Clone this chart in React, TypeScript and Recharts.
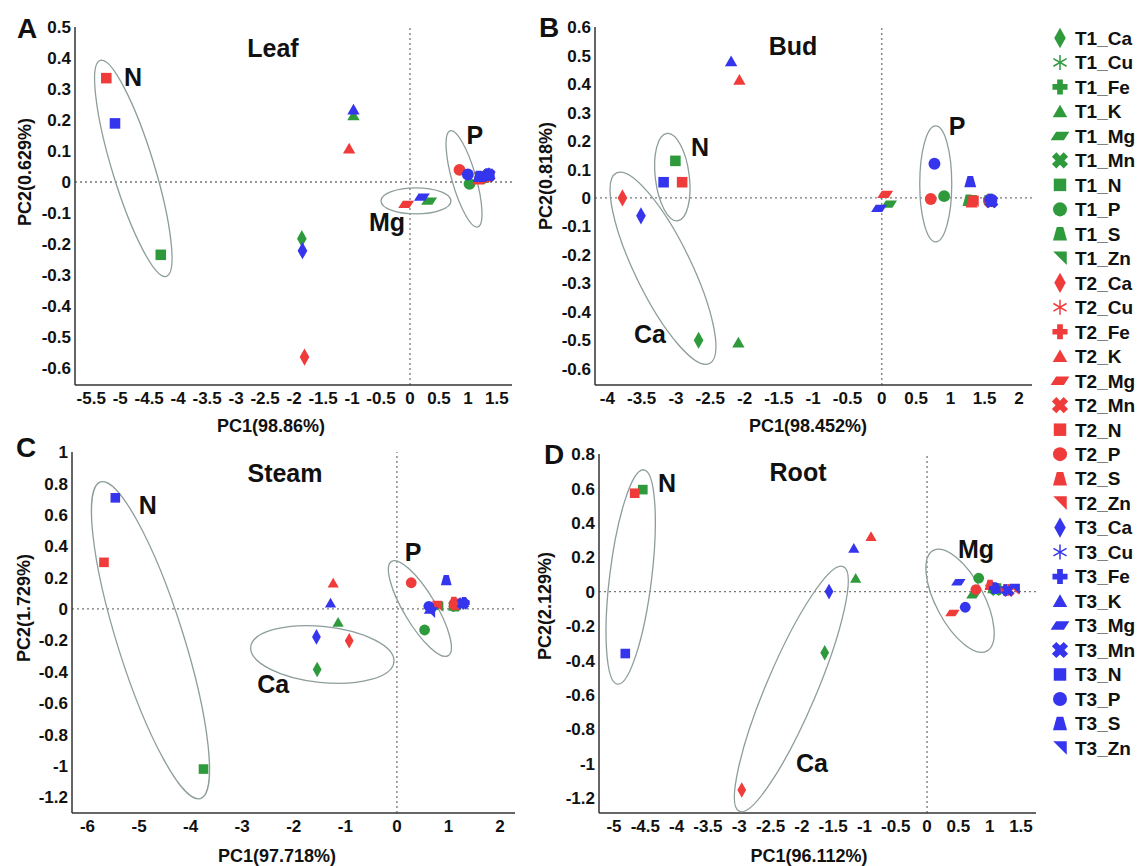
import React from 'react'
import { ScatterChart, Scatter, XAxis, YAxis, ReferenceLine, ReferenceDot } from 'recharts'

const FONT = '"Liberation Sans", Arial, Helvetica, sans-serif'

const ELEMENTS = ['Ca', 'Cu', 'Fe', 'K', 'Mg', 'Mn', 'N', 'P', 'S', 'Zn']
const TREATMENTS = ['T1', 'T2', 'T3']
const COLORS: Record<string, string> = { T1: '#2e9a3b', T2: '#f03b3b', T3: '#3535ee' }
const RING_COLOR = '#8d9d9b'

// ---- A: Leaf ----
const LEAF_T1 = [
  { el: 'Ca', pc1: -1.866, pc2: -0.183 },
  { el: 'Cu', pc1: 1.33, pc2: 0.02 },
  { el: 'Fe', pc1: 1.32, pc2: 0.018 },
  { el: 'K', pc1: -0.975, pc2: 0.215 },
  { el: 'Mg', pc1: 0.33, pc2: -0.062 },
  { el: 'Mn', pc1: 1.34, pc2: 0.02 },
  { el: 'N', pc1: -4.3, pc2: -0.235 },
  { el: 'P', pc1: 1.027, pc2: -0.006 },
  { el: 'S', pc1: 1.18, pc2: 0.012 },
  { el: 'Zn', pc1: 1.2, pc2: 0.01 },
]
const LEAF_T2 = [
  { el: 'Ca', pc1: -1.82, pc2: -0.565 },
  { el: 'Cu', pc1: 1.34, pc2: 0.018 },
  { el: 'Fe', pc1: 1.33, pc2: 0.02 },
  { el: 'K', pc1: -1.05, pc2: 0.108 },
  { el: 'Mg', pc1: -0.066, pc2: -0.072 },
  { el: 'Mn', pc1: 1.35, pc2: 0.02 },
  { el: 'N', pc1: -5.24, pc2: 0.335 },
  { el: 'P', pc1: 0.854, pc2: 0.039 },
  { el: 'S', pc1: 1.18, pc2: 0.01 },
  { el: 'Zn', pc1: 1.2, pc2: 0.012 },
]
const LEAF_T3 = [
  { el: 'Ca', pc1: -1.855, pc2: -0.222 },
  { el: 'Cu', pc1: 1.36, pc2: 0.025 },
  { el: 'Fe', pc1: 1.35, pc2: 0.024 },
  { el: 'K', pc1: -0.975, pc2: 0.234 },
  { el: 'Mg', pc1: 0.205, pc2: -0.049 },
  { el: 'Mn', pc1: 1.36, pc2: 0.022 },
  { el: 'N', pc1: -5.09, pc2: 0.189 },
  { el: 'P', pc1: 0.998, pc2: 0.024 },
  { el: 'S', pc1: 1.19, pc2: 0.018 },
  { el: 'Zn', pc1: 1.21, pc2: 0.015 },
]
const LEAF_X_DOMAIN = [-5.78, 1.76]
const LEAF_Y_DOMAIN = [-0.655, 0.5]
const LEAF_X_TICKS = [-5.5, -5, -4.5, -4, -3.5, -3, -2.5, -2, -1.5, -1, -0.5, 0, 0.5, 1, 1.5]
const LEAF_Y_TICKS = [-0.6, -0.5, -0.4, -0.3, -0.2, -0.1, 0, 0.1, 0.2, 0.3, 0.4, 0.5]
const LEAF_GROUPS = [
  { name: 'N', pc1: -4.774, pc2: 0.044 },
  { name: 'Mg', pc1: 0.103, pc2: -0.061 },
  { name: 'P', pc1: 0.932, pc2: 0.01 },
]
const LEAF_LABELS = [
  { text: 'Leaf', pc1: -2.364, pc2: 0.432 },
  { text: 'N', pc1: -4.779, pc2: 0.339 },
  { text: 'P', pc1: 1.121, pc2: 0.152 },
  { text: 'Mg', pc1: -0.397, pc2: -0.129 },
]

// ---- B: Bud ----
const BUD_T1 = [
  { el: 'Ca', pc1: -2.67, pc2: -0.5 },
  { el: 'Cu', pc1: 1.58, pc2: -0.01 },
  { el: 'Fe', pc1: 1.57, pc2: -0.008 },
  { el: 'K', pc1: -2.09, pc2: -0.508 },
  { el: 'Mg', pc1: 0.107, pc2: -0.022 },
  { el: 'Mn', pc1: 1.58, pc2: -0.01 },
  { el: 'N', pc1: -3.008, pc2: 0.13 },
  { el: 'P', pc1: 0.909, pc2: 0.006 },
  { el: 'S', pc1: 1.265, pc2: -0.008 },
  { el: 'Zn', pc1: 1.3, pc2: -0.01 },
]
const BUD_T2 = [
  { el: 'Ca', pc1: -3.78, pc2: 0 },
  { el: 'Cu', pc1: 1.59, pc2: -0.01 },
  { el: 'Fe', pc1: 1.58, pc2: -0.01 },
  { el: 'K', pc1: -2.075, pc2: 0.415 },
  { el: 'Mg', pc1: 0.05, pc2: 0.012 },
  { el: 'Mn', pc1: 1.59, pc2: -0.012 },
  { el: 'N', pc1: -2.91, pc2: 0.055 },
  { el: 'P', pc1: 0.714, pc2: -0.004 },
  { el: 'S', pc1: 1.31, pc2: -0.014 },
  { el: 'Zn', pc1: 1.33, pc2: -0.012 },
]
const BUD_T3 = [
  { el: 'Ca', pc1: -3.51, pc2: -0.063 },
  { el: 'Cu', pc1: 1.6, pc2: -0.01 },
  { el: 'Fe', pc1: 1.59, pc2: -0.008 },
  { el: 'K', pc1: -2.196, pc2: 0.48 },
  { el: 'Mg', pc1: -0.04, pc2: -0.037 },
  { el: 'Mn', pc1: 1.6, pc2: -0.012 },
  { el: 'N', pc1: -3.18, pc2: 0.055 },
  { el: 'P', pc1: 0.768, pc2: 0.12 },
  { el: 'S', pc1: 1.29, pc2: 0.057 },
  { el: 'Zn', pc1: 1.57, pc2: -0.012 },
]
const BUD_X_DOMAIN = [-4.18, 2.19]
const BUD_Y_DOMAIN = [-0.657, 0.6]
const BUD_X_TICKS = [-4, -3.5, -3, -2.5, -2, -1.5, -1, -0.5, 0, 0.5, 1, 1.5, 2]
const BUD_Y_TICKS = [-0.6, -0.5, -0.4, -0.3, -0.2, -0.1, 0, 0.1, 0.2, 0.3, 0.4, 0.5, 0.6]
const BUD_GROUPS = [
  { name: 'N', pc1: -3.053, pc2: 0.073 },
  { name: 'Ca', pc1: -3.189, pc2: -0.247 },
  { name: 'P', pc1: 0.787, pc2: 0.049 },
]
const BUD_LABELS = [
  { text: 'Bud', pc1: -1.294, pc2: 0.533 },
  { text: 'N', pc1: -2.649, pc2: 0.179 },
  { text: 'P', pc1: 1.097, pc2: 0.252 },
  { text: 'Ca', pc1: -3.378, pc2: -0.478 },
]

// ---- C: Steam ----
const STEM_T1 = [
  { el: 'Ca', pc1: -1.546, pc2: -0.386 },
  { el: 'Cu', pc1: 1.1, pc2: 0.02 },
  { el: 'Fe', pc1: 1.12, pc2: 0.02 },
  { el: 'K', pc1: -1.14, pc2: -0.085 },
  { el: 'Mg', pc1: 0.75, pc2: 0.015 },
  { el: 'Mn', pc1: 1.13, pc2: 0.02 },
  { el: 'N', pc1: -3.75, pc2: -1.02 },
  { el: 'P', pc1: 0.537, pc2: -0.134 },
  { el: 'S', pc1: 1.1, pc2: 0.022 },
  { el: 'Zn', pc1: 0.8, pc2: 0.015 },
]
const STEM_T2 = [
  { el: 'Ca', pc1: -0.925, pc2: -0.203 },
  { el: 'Cu', pc1: 1.12, pc2: 0.03 },
  { el: 'Fe', pc1: 1.12, pc2: 0.03 },
  { el: 'K', pc1: -1.235, pc2: 0.165 },
  { el: 'Mg', pc1: 0.74, pc2: 0.02 },
  { el: 'Mn', pc1: 1.13, pc2: 0.03 },
  { el: 'N', pc1: -5.68, pc2: 0.297 },
  { el: 'P', pc1: 0.278, pc2: 0.167 },
  { el: 'S', pc1: 1.105, pc2: 0.045 },
  { el: 'Zn', pc1: 0.776, pc2: 0.019 },
]
const STEM_T3 = [
  { el: 'Ca', pc1: -1.56, pc2: -0.178 },
  { el: 'Cu', pc1: 1.29, pc2: 0.035 },
  { el: 'Fe', pc1: 1.3, pc2: 0.04 },
  { el: 'K', pc1: -1.287, pc2: 0.038 },
  { el: 'Mg', pc1: 0.66, pc2: -0.01 },
  { el: 'Mn', pc1: 1.28, pc2: 0.035 },
  { el: 'N', pc1: -5.46, pc2: 0.708 },
  { el: 'P', pc1: 0.62, pc2: 0.017 },
  { el: 'S', pc1: 0.957, pc2: 0.184 },
  { el: 'Zn', pc1: 0.64, pc2: -0.025 },
]
const STEM_X_DOMAIN = [-6.3, 2.29]
const STEM_Y_DOMAIN = [-1.3, 1.0]
const STEM_X_TICKS = [-6, -5, -4, -3, -2, -1, 0, 1, 2]
const STEM_Y_TICKS = [-1.2, -1, -0.8, -0.6, -0.4, -0.2, 0, 0.2, 0.4, 0.6, 0.8, 1]
const STEM_GROUPS = [
  { name: 'N', pc1: -4.778, pc2: -0.199 },
  { name: 'Ca', pc1: -1.446, pc2: -0.29 },
  { name: 'P', pc1: 0.446, pc2: 0.003 },
]
const STEM_LABELS = [
  { text: 'Steam', pc1: -2.17, pc2: 0.864 },
  { text: 'N', pc1: -4.83, pc2: 0.661 },
  { text: 'P', pc1: 0.316, pc2: 0.362 },
  { text: 'Ca', pc1: -2.4, pc2: -0.479 },
]

// ---- D: Root ----
const ROOT_T1 = [
  { el: 'Ca', pc1: -1.635, pc2: -0.355 },
  { el: 'Cu', pc1: 1.12, pc2: 0.015 },
  { el: 'Fe', pc1: 1.15, pc2: 0.015 },
  { el: 'K', pc1: -1.14, pc2: 0.078 },
  { el: 'Mg', pc1: 0.74, pc2: -0.021 },
  { el: 'Mn', pc1: 1.1, pc2: 0.01 },
  { el: 'N', pc1: -4.54, pc2: 0.593 },
  { el: 'P', pc1: 0.825, pc2: 0.078 },
  { el: 'S', pc1: 1.05, pc2: 0.02 },
  { el: 'Zn', pc1: 1.0, pc2: 0.01 },
]
const ROOT_T2 = [
  { el: 'Ca', pc1: -2.96, pc2: -1.153 },
  { el: 'Cu', pc1: 1.3, pc2: 0.01 },
  { el: 'Fe', pc1: 1.25, pc2: 0.01 },
  { el: 'K', pc1: -0.895, pc2: 0.32 },
  { el: 'Mg', pc1: 0.405, pc2: -0.124 },
  { el: 'Mn', pc1: 1.3, pc2: 0.005 },
  { el: 'N', pc1: -4.67, pc2: 0.572 },
  { el: 'P', pc1: 0.78, pc2: 0.012 },
  { el: 'S', pc1: 1.006, pc2: 0.039 },
  { el: 'Zn', pc1: 1.38, pc2: 0.012 },
]
const ROOT_T3 = [
  { el: 'Ca', pc1: -1.566, pc2: 0 },
  { el: 'Cu', pc1: 1.27, pc2: 0.01 },
  { el: 'Fe', pc1: 1.08, pc2: 0.02 },
  { el: 'K', pc1: -1.17, pc2: 0.252 },
  { el: 'Mg', pc1: 0.5, pc2: 0.054 },
  { el: 'Mn', pc1: 1.29, pc2: 0.008 },
  { el: 'N', pc1: -4.82, pc2: -0.36 },
  { el: 'P', pc1: 0.61, pc2: -0.091 },
  { el: 'S', pc1: 1.1, pc2: 0.02 },
  { el: 'Zn', pc1: 1.4, pc2: 0.015 },
]
const ROOT_X_DOMAIN = [-5.24, 1.74]
const ROOT_Y_DOMAIN = [-1.287, 0.8]
const ROOT_X_TICKS = [-5, -4.5, -4, -3.5, -3, -2.5, -2, -1.5, -1, -0.5, 0, 0.5, 1, 1.5]
const ROOT_Y_TICKS = [-1.2, -1, -0.8, -0.6, -0.4, -0.2, 0, 0.2, 0.4, 0.6, 0.8]
const ROOT_GROUPS = [
  { name: 'N', pc1: -4.734, pc2: 0.085 },
  { name: 'Ca', pc1: -2.168, pc2: -0.566 },
  { name: 'Mg', pc1: 0.527, pc2: -0.053 },
]
const ROOT_LABELS = [
  { text: 'Root', pc1: -2.061, pc2: 0.697 },
  { text: 'N', pc1: -4.154, pc2: 0.633 },
  { text: 'Mg', pc1: 0.782, pc2: 0.249 },
  { text: 'Ca', pc1: -1.837, pc2: -0.995 },
]

// layout: chart boxes, ring sizes (px), axis titles
const PANELS = [
  {
    letter: 'A', series: [LEAF_T1, LEAF_T2, LEAF_T3], xDomain: LEAF_X_DOMAIN, yDomain: LEAF_Y_DOMAIN,
    xTicks: LEAF_X_TICKS, yTicks: LEAF_Y_TICKS, groups: LEAF_GROUPS, labels: LEAF_LABELS,
    box: { left: 0, top: 0, width: 520, height: 440, mt: 27, mr: 8, yW: 75, xH: 55 }, size: 11,
    rings: [{ rx: 21, ry: 113, rot: -17 }, { rx: 35, ry: 13, rot: 0 }, { rx: 12, ry: 50, rot: -16 }],
    letterPos: [27, 28], xTitle: 'PC1(98.86%)', xTitlePos: [271, 426], yTitle: 'PC2(0.629%)', yTitlePos: [25, 172],
  },
  {
    letter: 'B', series: [BUD_T1, BUD_T2, BUD_T3], xDomain: BUD_X_DOMAIN, yDomain: BUD_Y_DOMAIN,
    xTicks: BUD_X_TICKS, yTicks: BUD_Y_TICKS, groups: BUD_GROUPS, labels: BUD_LABELS,
    box: { left: 520, top: 0, width: 523, height: 440, mt: 27, mr: 11, yW: 75, xH: 55 }, size: 11,
    rings: [{ rx: 17, ry: 44, rot: -7 }, { rx: 28, ry: 106, rot: -26 }, { rx: 16, ry: 58, rot: 0 }],
    letterPos: [549, 27], xTitle: 'PC1(98.452%)', xTitlePos: [808, 426], yTitle: 'PC2(0.818%)', yTitlePos: [546, 176],
  },
  {
    letter: 'C', series: [STEM_T1, STEM_T2, STEM_T3], xDomain: STEM_X_DOMAIN, yDomain: STEM_Y_DOMAIN,
    xTicks: STEM_X_TICKS, yTicks: STEM_Y_TICKS, groups: STEM_GROUPS, labels: STEM_LABELS,
    box: { left: 0, top: 430, width: 520, height: 436, mt: 22, mr: 5, yW: 72, xH: 53 }, size: 10,
    rings: [{ rx: 33, ry: 166, rot: -17.5 }, { rx: 72, ry: 28, rot: 6 }, { rx: 16, ry: 55, rot: -31 }],
    letterPos: [26, 447], xTitle: 'PC1(97.718%)', xTitlePos: [277, 856], yTitle: 'PC2(1.729%)', yTitlePos: [24, 608],
  },
  {
    letter: 'D', series: [ROOT_T1, ROOT_T2, ROOT_T3], xDomain: ROOT_X_DOMAIN, yDomain: ROOT_Y_DOMAIN,
    xTicks: ROOT_X_TICKS, yTicks: ROOT_Y_TICKS, groups: ROOT_GROUPS, labels: ROOT_LABELS,
    box: { left: 520, top: 430, width: 523, height: 436, mt: 24, mr: 7, yW: 79, xH: 53 }, size: 10,
    rings: [{ rx: 21, ry: 108, rot: 7 }, { rx: 25, ry: 133, rot: 23 }, { rx: 24, ry: 57, rot: -28 }],
    letterPos: [554, 454], xTitle: 'PC1(96.112%)', xTitlePos: [809, 856], yTitle: 'PC2(2.129%)', yTitlePos: [545, 606],
  },
]

const pts = (list: number[][], cx: number, cy: number, s: number) =>
  list.map(([x, y]) => `${cx + x * s},${cy + y * s}`).join(' ')

const PLUS = (t: number, a: number) => [
  [-t, -a], [t, -a], [t, -t], [a, -t], [a, t], [t, t],
  [t, a], [-t, a], [-t, t], [-a, t], [-a, -t], [-t, -t],
]

function Marker({ el, cx, cy, s, color }: { el: string; cx: number; cy: number; s: number; color: string }) {
  switch (el) {
    case 'Ca':
      return <polygon points={pts([[0, -0.78], [0.44, 0], [0, 0.78], [-0.44, 0]], cx, cy, s)} fill={color} />
    case 'Cu': {
      const h = s * 0.58
      return (
        <g stroke={color} strokeWidth={1.5}>
          <line x1={cx} y1={cy - h} x2={cx} y2={cy + h} />
          <line x1={cx - h * 0.87} y1={cy - h * 0.5} x2={cx + h * 0.87} y2={cy + h * 0.5} />
          <line x1={cx - h * 0.87} y1={cy + h * 0.5} x2={cx + h * 0.87} y2={cy - h * 0.5} />
        </g>
      )
    }
    case 'Fe':
      return <polygon points={pts(PLUS(0.22, 0.58), cx, cy, s)} fill={color} />
    case 'K':
      return <polygon points={pts([[0, -0.52], [0.56, 0.45], [-0.56, 0.45]], cx, cy, s)} fill={color} />
    case 'Mg':
      return <polygon points={pts([[-0.72, 0.33], [-0.3, -0.33], [0.72, -0.33], [0.3, 0.33]], cx, cy, s)} fill={color} />
    case 'Mn':
      return (
        <polygon
          points={pts(PLUS(0.24, 0.64), cx, cy, s)}
          fill={color}
          transform={`rotate(45 ${cx} ${cy})`}
        />
      )
    case 'N':
      return <rect x={cx - 0.48 * s} y={cy - 0.48 * s} width={0.96 * s} height={0.96 * s} fill={color} />
    case 'P':
      return <circle cx={cx} cy={cy} r={0.54 * s} fill={color} />
    case 'S':
      return <polygon points={pts([[-0.25, -0.52], [0.25, -0.52], [0.54, 0.52], [-0.54, 0.52]], cx, cy, s)} fill={color} />
    case 'Zn':
      return <polygon points={pts([[-0.52, -0.52], [0.52, -0.52], [0.52, 0.52]], cx, cy, s)} fill={color} />
    default:
      return null
  }
}

// tick labels drawn by hand so the bold font size sticks
function XTick(props: any) {
  return (
    <text x={props.x} y={props.y} dy="0.75em" textAnchor="middle" fontFamily={FONT} fontWeight={700} fontSize={17} fill="#111">
      {props.payload.value}
    </text>
  )
}
function YTick(props: any) {
  return (
    <text x={props.x} y={props.y} dy="0.36em" textAnchor="end" fontFamily={FONT} fontWeight={700} fontSize={17} fill="#111">
      {props.payload.value}
    </text>
  )
}

const axisLineStyle = { stroke: '#333', strokeWidth: 1.5 }
const dashStyle = { stroke: '#777', strokeWidth: 1.3, strokeDasharray: '2 3' }

function Panel({ p }: { p: (typeof PANELS)[number] }) {
  const b = p.box
  return (
    <div style={{ position: 'absolute', left: b.left, top: b.top }}>
      <ScatterChart width={b.width} height={b.height} margin={{ top: b.mt, right: b.mr, left: 0, bottom: 0 }}>
        <XAxis
          type="number"
          dataKey="pc1"
          domain={p.xDomain}
          ticks={p.xTicks}
          interval={0}
          allowDataOverflow
          height={b.xH}
          tickLine={false}
          tickSize={6}
          tickMargin={0}
          tick={<XTick />}
          axisLine={axisLineStyle}
        />
        <YAxis
          type="number"
          dataKey="pc2"
          domain={p.yDomain}
          ticks={p.yTicks}
          interval={0}
          allowDataOverflow
          width={b.yW}
          tickLine={false}
          tickSize={2}
          tickMargin={2}
          tick={<YTick />}
          axisLine={axisLineStyle}
        />
        <ReferenceLine x={0} {...dashStyle} />
        <ReferenceLine y={0} {...dashStyle} />
        {p.groups.map((g, i) => (
          <ReferenceDot
            key={'ring' + i}
            x={g.pc1}
            y={g.pc2}
            r={0}
            ifOverflow="visible"
            shape={(d: any) => (
              <ellipse
                cx={d.cx}
                cy={d.cy}
                rx={p.rings[i].rx}
                ry={p.rings[i].ry}
                transform={`rotate(${p.rings[i].rot} ${d.cx} ${d.cy})`}
                fill="none"
                stroke={RING_COLOR}
                strokeWidth={1.3}
              />
            )}
          />
        ))}
        {p.series.map((data, i) => (
          <Scatter
            key={TREATMENTS[i]}
            name={TREATMENTS[i]}
            data={data}
            fill={COLORS[TREATMENTS[i]]}
            isAnimationActive={false}
            shape={(d: any) => (
              <Marker el={d.payload.el} cx={d.cx} cy={d.cy} s={p.size} color={COLORS[TREATMENTS[i]]} />
            )}
          />
        ))}
        {p.labels.map((l, i) => (
          <ReferenceDot
            key={'lab' + i}
            x={l.pc1}
            y={l.pc2}
            r={0}
            ifOverflow="visible"
            shape={(d: any) => (
              <text
                x={d.cx}
                y={d.cy}
                dy="0.36em"
                textAnchor="middle"
                fontFamily={FONT}
                fontWeight={700}
                fontSize={25}
                fill="#111"
              >
                {l.text}
              </text>
            )}
          />
        ))}
      </ScatterChart>
    </div>
  )
}

function Legend() {
  const entries = TREATMENTS.flatMap((t) => ELEMENTS.map((el) => ({ t, el })))
  return (
    <svg width={103} height={866} style={{ position: 'absolute', left: 1040, top: 0 }}>
      {entries.map((e, i) => {
        const y = 38 + i * 24.48
        return (
          <g key={e.t + e.el}>
            <Marker el={e.el} cx={20} cy={y} s={13} color={COLORS[e.t]} />
            <text x={35} y={y} dy="0.36em" fontFamily={FONT} fontWeight={700} fontSize={19} fill="#111">
              {`${e.t}_${e.el}`}
            </text>
          </g>
        )
      })}
    </svg>
  )
}

function Titles() {
  return (
    <svg width={1143} height={866} style={{ position: 'absolute', left: 0, top: 0, pointerEvents: 'none' }}>
      {PANELS.map((p) => (
        <g key={p.letter} fontFamily={FONT} fontWeight={700} fill="#111">
          <text x={p.letterPos[0]} y={p.letterPos[1]} dy="0.36em" textAnchor="middle" fontSize={28}>
            {p.letter}
          </text>
          <text x={p.xTitlePos[0]} y={p.xTitlePos[1]} dy="0.36em" textAnchor="middle" fontSize={18}>
            {p.xTitle}
          </text>
          <text
            x={p.yTitlePos[0]}
            y={p.yTitlePos[1]}
            dy="0.36em"
            textAnchor="middle"
            fontSize={18}
            transform={`rotate(-90 ${p.yTitlePos[0]} ${p.yTitlePos[1]})`}
          >
            {p.yTitle}
          </text>
        </g>
      ))}
    </svg>
  )
}

export default function App() {
  return (
    <div style={{ position: 'absolute', left: 0, top: 0, width: 1143, height: 866, background: '#fff' }}>
      {PANELS.map((p) => (
        <Panel key={p.letter} p={p} />
      ))}
      <Legend />
      <Titles />
    </div>
  )
}
